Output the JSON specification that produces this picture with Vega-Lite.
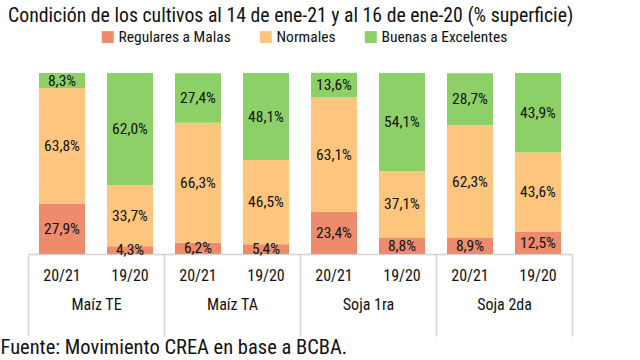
{
  "$schema": "https://vega.github.io/schema/vega-lite/v6.json",
  "width": 544,
  "height": 181,
  "autosize": {"type": "none"},
  "padding": {"left": 28, "top": 73, "right": 68, "bottom": 106},
  "background": "white",
  "title": {
    "text": "Condición de los cultivos al 14 de ene-21 y al 16 de ene-20 (% superficie)",
    "anchor": "start",
    "dx": 8,
    "offset": 3,
    "fontSize": 19.8,
    "fontWeight": "normal",
    "color": "#111111"
  },
  "config": {
    "font": "Roboto Condensed, Noto Sans Condensed, DejaVu Sans Condensed, sans-serif",
    "view": {"stroke": null}
  },
  "data": {
    "values": [
      {"crop": "Maíz TE", "season": "20/21", "cat": "Regulares a Malas", "v": 27.9},
      {"crop": "Maíz TE", "season": "20/21", "cat": "Normales", "v": 63.8},
      {"crop": "Maíz TE", "season": "20/21", "cat": "Buenas a Excelentes", "v": 8.3},
      {"crop": "Maíz TE", "season": "19/20", "cat": "Regulares a Malas", "v": 4.3},
      {"crop": "Maíz TE", "season": "19/20", "cat": "Normales", "v": 33.7},
      {"crop": "Maíz TE", "season": "19/20", "cat": "Buenas a Excelentes", "v": 62.0},
      {"crop": "Maíz TA", "season": "20/21", "cat": "Regulares a Malas", "v": 6.2},
      {"crop": "Maíz TA", "season": "20/21", "cat": "Normales", "v": 66.3},
      {"crop": "Maíz TA", "season": "20/21", "cat": "Buenas a Excelentes", "v": 27.4},
      {"crop": "Maíz TA", "season": "19/20", "cat": "Regulares a Malas", "v": 5.4},
      {"crop": "Maíz TA", "season": "19/20", "cat": "Normales", "v": 46.5},
      {"crop": "Maíz TA", "season": "19/20", "cat": "Buenas a Excelentes", "v": 48.1},
      {"crop": "Soja 1ra", "season": "20/21", "cat": "Regulares a Malas", "v": 23.4},
      {"crop": "Soja 1ra", "season": "20/21", "cat": "Normales", "v": 63.1},
      {"crop": "Soja 1ra", "season": "20/21", "cat": "Buenas a Excelentes", "v": 13.6},
      {"crop": "Soja 1ra", "season": "19/20", "cat": "Regulares a Malas", "v": 8.8},
      {"crop": "Soja 1ra", "season": "19/20", "cat": "Normales", "v": 37.1},
      {"crop": "Soja 1ra", "season": "19/20", "cat": "Buenas a Excelentes", "v": 54.1},
      {"crop": "Soja 2da", "season": "20/21", "cat": "Regulares a Malas", "v": 8.9},
      {"crop": "Soja 2da", "season": "20/21", "cat": "Normales", "v": 62.3},
      {"crop": "Soja 2da", "season": "20/21", "cat": "Buenas a Excelentes", "v": 28.7},
      {"crop": "Soja 2da", "season": "19/20", "cat": "Regulares a Malas", "v": 12.5},
      {"crop": "Soja 2da", "season": "19/20", "cat": "Normales", "v": 43.6},
      {"crop": "Soja 2da", "season": "19/20", "cat": "Buenas a Excelentes", "v": 43.9}
    ]
  },
  "transform": [
    {"calculate": "datum.crop + '|' + datum.season", "as": "key"},
    {"calculate": "indexof(['Regulares a Malas','Normales','Buenas a Excelentes'], datum.cat)", "as": "ord"},
    {"stack": "v", "groupby": ["key"], "sort": [{"field": "ord", "order": "ascending"}], "as": ["y0", "y1"]},
    {"calculate": "(datum.y0 + datum.y1) / 2", "as": "ym"},
    {"calculate": "replace(format(datum.v, '.1f'), '.', ',') + '%'", "as": "label"}
  ],
  "layer": [
    {
      "encoding": {
        "x": {
          "field": "key",
          "type": "nominal",
          "scale": {
            "domain": ["Maíz TE|20/21", "Maíz TE|19/20", "Maíz TA|20/21", "Maíz TA|19/20", "Soja 1ra|20/21", "Soja 1ra|19/20", "Soja 2da|20/21", "Soja 2da|19/20"],
            "paddingInner": 0.3235,
            "paddingOuter": 0.1618
          },
          "axis": {
            "orient": "bottom",
            "title": "Fuente: Movimiento CREA en base a BCBA.",
            "labelExpr": "split(datum.label, '|')[1]",
            "labelAngle": 0,
            "ticks": false,
            "domain": true,
            "domainColor": "#d4d4d4",
            "domainWidth": 1.5,
            "labelPadding": 13,
            "labelFontSize": 16,
            "labelColor": "#111111",
            "titleX": -28,
            "titleY": 99,
            "titleAnchor": "start",
            "titleAlign": "left",
            "titleBaseline": "alphabetic",
            "titleFontSize": 20.5,
            "titleFontWeight": "normal",
            "titleColor": "#111111"
          }
        }
      },
      "layer": [
        {
          "mark": {"type": "bar"},
          "encoding": {
            "y": {"field": "y0", "type": "quantitative", "scale": {"domain": [0, 100]}, "axis": null},
            "y2": {"field": "y1"},
            "color": {
              "field": "cat",
              "type": "nominal",
              "scale": {
                "domain": ["Regulares a Malas", "Normales", "Buenas a Excelentes"],
                "range": ["#EE8B6C", "#FDC57D", "#8ED068"]
              },
              "legend": {
                "orient": "none",
                "legendX": 72,
                "legendY": -44,
                "direction": "horizontal",
                "title": null,
                "symbolType": "square",
                "symbolSize": 144,
                "symbolStrokeWidth": 0,
                "symbolOpacity": 1,
                "labelFontSize": 15.5,
                "labelColor": "#111111",
                "columnPadding": 27,
                "labelOffset": 3,
                "padding": 0
              }
            }
          }
        },
        {
          "mark": {"type": "text", "fontSize": 15.5, "color": "#111111", "baseline": "middle"},
          "encoding": {
            "y": {"field": "ym", "type": "quantitative", "scale": {"domain": [0, 100]}},
            "text": {"field": "label", "type": "nominal"}
          }
        }
      ]
    },
    {
      "mark": {"type": "tick", "opacity": 0},
      "encoding": {
        "x": {
          "field": "crop",
          "type": "nominal",
          "scale": {"domain": ["Maíz TE", "Maíz TA", "Soja 1ra", "Soja 2da"], "paddingInner": 0, "paddingOuter": 0},
          "axis": {
            "orient": "bottom",
            "title": null,
            "tickBand": "extent",
            "tickSize": 82,
            "tickColor": "#d4d4d4",
            "tickWidth": 1.5,
            "domain": false,
            "labelAngle": 0,
            "labelPadding": -40,
            "labelFontSize": 16,
            "labelColor": "#111111"
          }
        }
      }
    }
  ],
  "resolve": {"scale": {"x": "independent"}, "axis": {"x": "independent"}}
}
